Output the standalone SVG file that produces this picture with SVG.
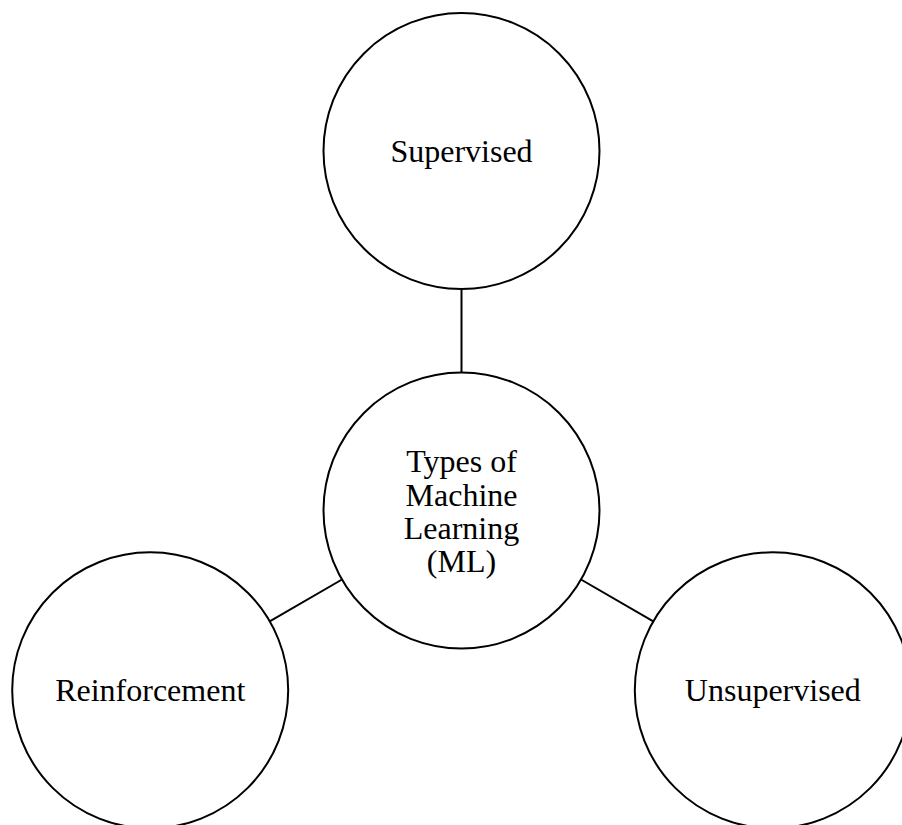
<svg xmlns="http://www.w3.org/2000/svg" width="902" height="825" viewBox="0 0 902 825">
<style>
.node circle{fill:#fff;stroke:#000;stroke-width:2}
.node text{font-family:"Liberation Serif","Times New Roman",serif;font-size:32px;fill:#000;text-anchor:middle}
#connectors line{stroke:#000;stroke-width:2}
</style>
<rect width="902" height="825" fill="#fff"/>
<g id="connectors">
<line x1="461.5" y1="289" x2="461.5" y2="372.5"/>
<line x1="342" y1="579.5" x2="269.7" y2="621.3"/>
<line x1="581" y1="579.5" x2="653.3" y2="621.3"/>
</g>
<g id="node-center" class="node">
<circle cx="461.5" cy="510.5" r="138"/>
<text x="461.5" y="472.4">Types of</text>
<text x="461.5" y="505.6">Machine</text>
<text x="461.5" y="538.8">Learning</text>
<text x="461.5" y="571.8">(ML)</text>
</g>
<g id="node-supervised" class="node">
<circle cx="461.5" cy="151" r="138"/>
<text x="461.5" y="161.6">Supervised</text>
</g>
<g id="node-reinforcement" class="node">
<circle cx="150.2" cy="690.3" r="138"/>
<text x="150.2" y="700.5">Reinforcement</text>
</g>
<g id="node-unsupervised" class="node">
<circle cx="772.8" cy="690.3" r="138"/>
<text x="772.8" y="700.5">Unsupervised</text>
</g>
</svg>
